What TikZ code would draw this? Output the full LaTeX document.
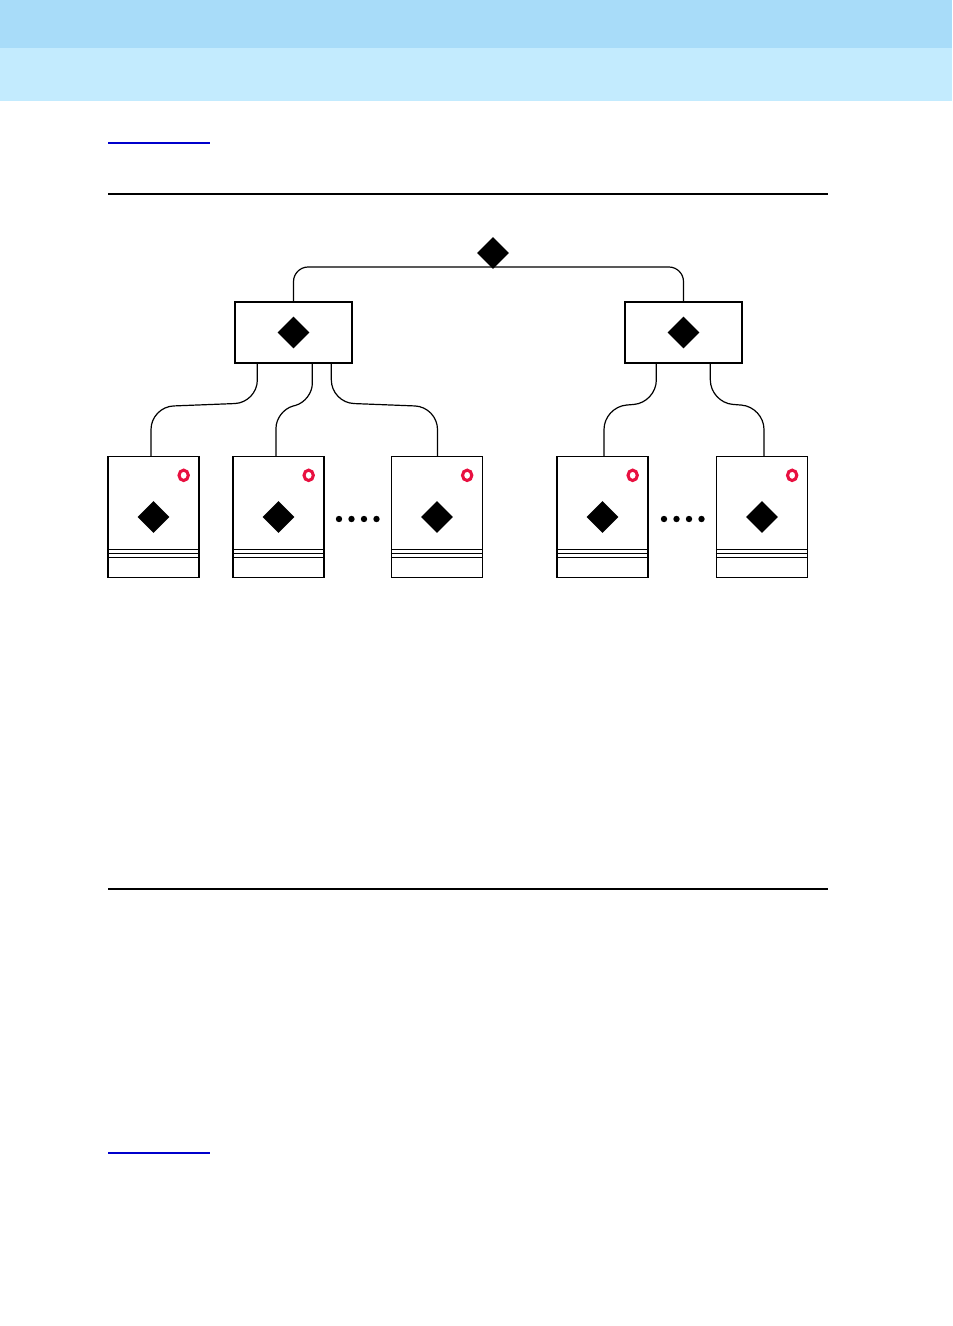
\documentclass[tikz,border=0pt]{standalone}
\usetikzlibrary{shapes.geometric,calc}
\definecolor{hdrA}{RGB}{168,220,249}
\definecolor{hdrB}{RGB}{195,235,254}
\definecolor{ringred}{RGB}{232,16,64}
\definecolor{ruleblue}{RGB}{0,0,204}
\begin{document}
\begin{tikzpicture}[x=0.75pt,y=-0.75pt,
  gem/.style={shape=diamond,fill=black,inner sep=0pt,minimum size=24pt},
  unitbox/.style={draw=black,line width=1pt,minimum width=87.75pt,minimum height=45.75pt,inner sep=0pt},
  card/.style={draw=black,line width=1pt,minimum width=68.25pt,minimum height=90.75pt,inner sep=0pt},
  link/.style={line width=0.9pt,rounded corners=17pt},
  ring/.style={draw=ringred,line width=2.3pt,ellipse,minimum width=7pt,minimum height=7.8pt,inner sep=0pt},
  dot/.style={circle,fill=black,inner sep=0pt,minimum size=4.8pt},
  cardline/.style={line width=0.8pt}]
\useasboundingbox (0,0) rectangle (952,1326);
% header bands
\fill[hdrA] (0,0) rectangle (952,48);
\fill[hdrB] (0,48) rectangle (952,101);
% rules
\draw[ruleblue,line width=1pt] (108,143) -- (210,143);
\draw[black,line width=2pt] (108,194) -- (828,194);
\draw[black,line width=1pt] (108,889) -- (828,889);
\draw[ruleblue,line width=1pt] (108,1153) -- (210,1153);

% top diamond and junction
\node[gem] (top) at (493,253) {};
\coordinate (join) at (493,267);

% unit boxes
\node[unitbox] (L) at (293.5,332.5) {};
\node[gem] (Lg) at (L.center) {};
\node[unitbox] (R) at (683.5,332.5) {};
\node[gem] (Rg) at (R.center) {};

\draw[link,rounded corners=11pt] (L.north) |- (join) -| (R.north);

% cards
\foreach \n/\cx in {c1/153.5,c2/278.5,c3/437,c4/602.5,c5/762}{
  \node[card] (\n) at (\cx,517) {};
  \node[gem] (\n g) at (\n.center) {};
  \node[ring] (\n r) at ($(\n.north east)+(-16,19.5)$) {};
  \draw[cardline] ($(\n.south west)+(0,-29)$) -- ($(\n.south east)+(0,-29)$);
  \draw[cardline] ($(\n.south west)+(0,-25)$) -- ($(\n.south east)+(0,-25)$);
  \draw[cardline] ($(\n.south west)+(0,-21)$) -- ($(\n.south east)+(0,-21)$);
}

% connectors
\coordinate (l1) at ($(L.south west)+(23,0)$);
\coordinate (l2) at ($(L.south west)+(78,0)$);
\coordinate (l3) at ($(L.south west)+(97,0)$);
\coordinate (r1) at ($(R.south west)+(32,0)$);
\coordinate (r2) at ($(R.south west)+(86,0)$);
\coordinate (t1) at ($(c1.north)+(-2.5,0)$);
\coordinate (t2) at ($(c2.north)+(-2.5,0)$);
\coordinate (t3) at ($(c3.north)+(0.5,0)$);
\coordinate (t4) at ($(c4.north)+(1.5,0)$);
\coordinate (t5) at ($(c5.north)+(2,0)$);

\draw[link] (l1) -- ($(l1)+(0,39)$) -- ($(t1)+(0,-49)$) -- (t1);
\draw[link,rounded corners=13pt] (l2) -- ($(l2)+(0,37)$) -- ($(t2)+(0,-45)$) -- (t2);
\draw[link] (l3) -- ($(l3)+(0,39)$) -- ($(t3)+(0,-49)$) -- (t3);
\draw[link] (r1) -- ($(r1)+(0,39)$) -- ($(t4)+(0,-49)$) -- (t4);
\draw[link] (r2) -- ($(r2)+(0,39)$) -- ($(t5)+(0,-49)$) -- (t5);

% ellipsis dots
\foreach \k/\x in {1/339,2/351.5,3/364,4/376.5}{\node[dot] (dl\k) at (\x,519) {};}
\foreach \k/\x in {1/664,2/676.5,3/689,4/701.5}{\node[dot] (dr\k) at (\x,519) {};}
\end{tikzpicture}
\end{document}
